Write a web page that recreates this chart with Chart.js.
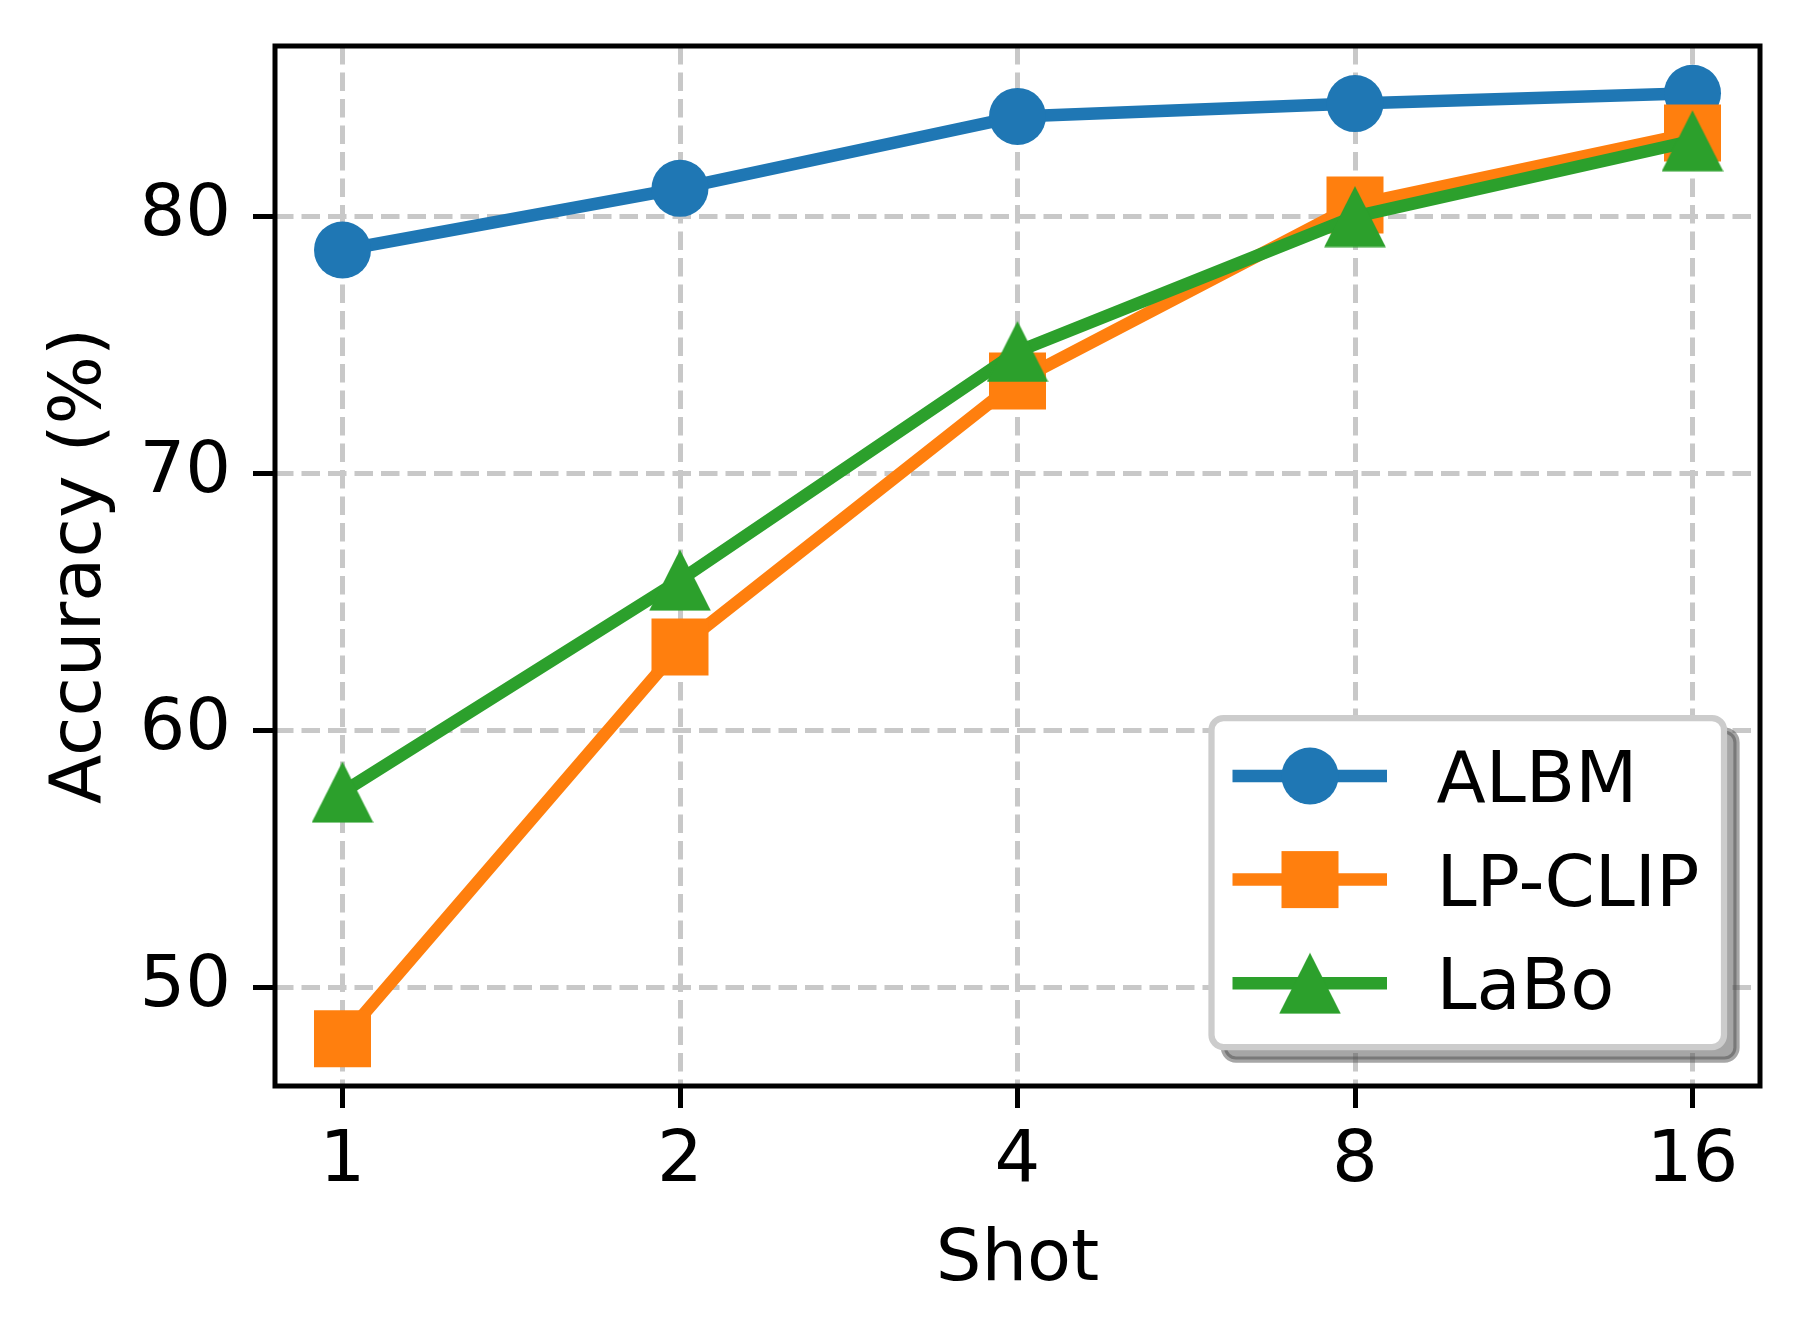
<!DOCTYPE html>
<html><head><meta charset="utf-8">
<script src="https://cdn.jsdelivr.net/npm/chart.js@4.4.1/dist/chart.umd.min.js"></script>
<style>html,body{margin:0;padding:0;background:#fff;overflow:hidden}#wrap{width:1806px;height:1341px}</style>
</head><body><div id="wrap"><canvas id="c" width="1806" height="1341"></canvas></div>
<script>
// ---- data ----
const shots = ["1", "2", "4", "8", "16"];
const seriesNames = ["ALBM", "LP-CLIP", "LaBo"];
const albm = [78.7, 81.1, 83.9, 84.4, 84.8];
const lpclip = [48.0, 63.25, 73.6, 80.45, 83.25];
const labo = [57.6, 65.85, 74.75, 80.0, 82.95];
const yTicks = [50, 60, 70, 80];
const xLabel = "Shot";
const yLabel = "Accuracy (%)";

// ---- styles ----
const colors = ["#1f77b4", "#ff7f0e", "#2ca02c"];
const FONT = "DejaVu Sans";
const LW = 12.5;

function triangleCanvas(color) {
  const c = document.createElement('canvas'); c.width = 62; c.height = 62;
  const g = c.getContext('2d'); g.fillStyle = color; g.beginPath();
  g.moveTo(31, 0.5); g.lineTo(61.8, 61.5); g.lineTo(0.2, 61.5); g.closePath(); g.fill();
  return c;
}
const triImg = triangleCanvas(colors[2]);

const allVals = albm.concat(lpclip, labo);
const dMin = Math.min(...allVals), dMax = Math.max(...allVals);
const yMargin = (dMax - dMin) * 0.05;
const xMargin = (shots.length - 1) * 0.05;

const toPts = arr => arr.map((v, i) => ({x: i, y: v}));

const markerStyles = [
  {pointStyle: 'circle', pointRadius: 28.5},
  {pointStyle: 'rect', pointRadius: 40.3},
  {pointStyle: triImg, pointRadius: 30}
];
const seriesData = [albm, lpclip, labo];

const datasets = seriesNames.map((name, i) => ({
  label: name,
  data: toPts(seriesData[i]),
  borderColor: colors[i],
  backgroundColor: colors[i],
  borderWidth: LW,
  pointStyle: markerStyles[i].pointStyle,
  pointRadius: markerStyles[i].pointRadius,
  pointBackgroundColor: colors[i],
  pointBorderWidth: 0,
  tension: 0,
  order: 2 - i,
  clip: false
}));

function rr(ctx, x, y, w, h, r) {
  ctx.beginPath();
  ctx.moveTo(x + r, y);
  ctx.lineTo(x + w - r, y); ctx.arcTo(x + w, y, x + w, y + r, r);
  ctx.lineTo(x + w, y + h - r); ctx.arcTo(x + w, y + h, x + w - r, y + h, r);
  ctx.lineTo(x + r, y + h); ctx.arcTo(x, y + h, x, y + h - r, r);
  ctx.lineTo(x, y + r); ctx.arcTo(x, y, x + r, y, r);
  ctx.closePath();
}

const framePlugin = {
  id: 'frame',
  afterDatasetsDraw(chart) {
    const {ctx, chartArea: a} = chart;
    ctx.save();
    ctx.lineWidth = 5; ctx.strokeStyle = '#000';
    ctx.strokeRect(a.left, a.top, a.right - a.left, a.bottom - a.top);
    ctx.restore();
  }
};

const legendPlugin = {
  id: 'boxLegend',
  afterDraw(chart) {
    const {ctx, chartArea: a} = chart;
    const R = a.right - 36, B = a.bottom - 39;
    const W = 512.5, H = 329;
    const L = R - W, T = B - H;
    ctx.save();
    // shadow
    rr(ctx, L + 12.5, T + 12.5, W, H, 12);
    ctx.fillStyle = 'rgba(77,77,77,0.5)'; ctx.fill();
    ctx.lineWidth = 6.25; ctx.strokeStyle = 'rgba(77,77,77,0.5)'; ctx.stroke();
    // frame
    rr(ctx, L, T, W, H, 12);
    ctx.fillStyle = '#fff'; ctx.fill();
    ctx.strokeStyle = '#cccccc'; ctx.stroke();
    chart.data.datasets.forEach((ds, i) => {
      const y = T + 58 + i * 103.6;
      const x1 = L + 21, x2 = L + 175.5, xm = L + 98.5;
      ctx.strokeStyle = ds.borderColor; ctx.lineWidth = LW; ctx.lineCap = 'butt';
      ctx.beginPath(); ctx.moveTo(x1, y); ctx.lineTo(x2, y); ctx.stroke();
      ctx.fillStyle = ds.borderColor;
      const ps = ds.pointStyle;
      if (ps === 'circle') { ctx.beginPath(); ctx.arc(xm, y, ds.pointRadius, 0, Math.PI * 2); ctx.fill(); }
      else if (ps === 'rect') { const s = ds.pointRadius * Math.SQRT1_2; ctx.fillRect(xm - s, y - s, 2 * s, 2 * s); }
      else { ctx.drawImage(ps, xm - ps.width / 2, y - ps.height / 2); }
      ctx.fillStyle = '#000'; ctx.font = '72px "' + FONT + '"';
      ctx.textAlign = 'left'; ctx.textBaseline = 'alphabetic';
      ctx.fillText(ds.label, L + 225, y + 26);
    });
    ctx.restore();
  }
};

Chart.defaults.font.family = FONT;

new Chart(document.getElementById('c'), {
  type: 'line',
  data: {datasets},
  options: {
    responsive: false,
    devicePixelRatio: 1,
    animation: false,
    events: [],
    layout: {padding: {left: 0, right: 46, top: 46, bottom: 0}},
    plugins: {legend: {display: false}, tooltip: {enabled: false}},
    scales: {
      x: {
        type: 'linear',
        min: -xMargin, max: shots.length - 1 + xMargin,
        afterBuildTicks: s => { s.ticks = shots.map((_, i) => ({value: i})); },
        afterFit: s => { s.height = 255; s.paddingLeft = 0; s.paddingRight = 0; },
        ticks: {callback: v => shots[v], font: {family: FONT, size: 72}, color: '#000', padding: 11, maxRotation: 0, autoSkip: false},
        grid: {color: '#c8c8c8', lineWidth: 5, tickColor: '#000', tickWidth: 5, tickLength: 22},
        border: {display: false, dash: [18.5, 8]},
        title: {display: true, text: xLabel, font: {family: FONT, size: 72}, color: '#000', padding: {top: 0, bottom: 37}}
      },
      y: {
        type: 'linear',
        min: dMin - yMargin, max: dMax + yMargin,
        afterBuildTicks: s => { s.ticks = yTicks.map(v => ({value: v})); },
        afterFit: s => { s.width = 275; s.paddingTop = 0; s.paddingBottom = 0; },
        ticks: {font: {family: FONT, size: 72}, color: '#000', padding: 22},
        grid: {color: '#c8c8c8', lineWidth: 5, tickColor: '#000', tickWidth: 5, tickLength: 22},
        border: {display: false, dash: [18.5, 8]},
        title: {display: true, text: yLabel, font: {family: FONT, size: 72}, color: '#000', padding: {top: 38, bottom: 0}}
      }
    }
  },
  plugins: [framePlugin, legendPlugin]
});
</script>
</body></html>
